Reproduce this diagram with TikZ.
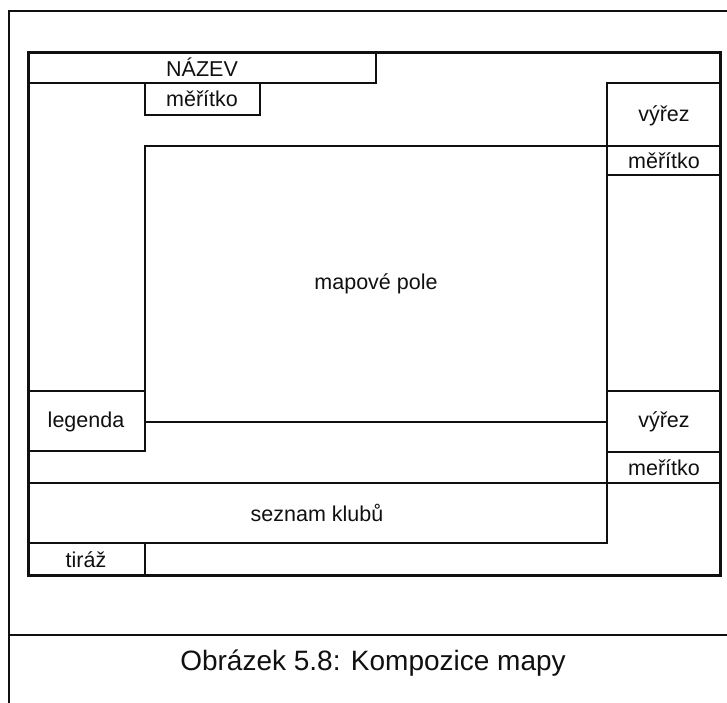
\documentclass[tikz,border=0pt]{standalone}
\usepackage{fontspec}
\setmainfont{Liberation Sans}
\newcommand{\Thin}{1.3pt}
\newcommand{\Frame}{3pt}
\newcommand{\Page}{2pt}
\newcommand{\LabelFont}{\fontsize{21.5}{24}\selectfont}
\newcommand{\CaptionFont}{\fontsize{28}{32}\selectfont}
\definecolor{ink}{HTML}{101010}

\begin{document}
\begin{tikzpicture}[x=1pt,y=-1pt, line join=miter, line cap=rect]
  \tikzset{lbl/.style={inner sep=0pt, text=ink, font=\LabelFont, anchor=center},
           rule/.style={ink, line width=\Thin}}
  \useasboundingbox (0,0) rectangle (727,702);

  % ---- page frame and caption --------------------------------------------
  \draw[ink,line width=\Page] (9,702) -- (9,11) -- (727,11);
  \draw[ink,line width=\Page] (9,635) -- (727,635);
  \node[inner sep=0pt, text=ink, font=\CaptionFont] (caption) at (373,663)
    {Obrázek 5.8: Kompozice mapy};

  % ---- title strip --------------------------------------------------------
  \draw[rule] (28,83) -- (376,83) -- (376,52);
  \draw[rule] (145,83) -- (145,115) -- (260,115) -- (260,83);
  \node[lbl] (nazev) at (202,67) {NÁZEV};
  \node[lbl] (meritkoA) at (202,99) {měřítko};

  % ---- right column -------------------------------------------------------
  \draw[rule] (607,83) -- (720,83);
  \draw[rule] (607,175) -- (720,175);
  \draw[rule] (607,391) -- (720,391);
  \draw[rule] (607,452) -- (720,452);
  \draw[rule] (607,83) -- (607,543);
  \node[lbl] (vyrezA) at (664,116) {výřez};
  \node[lbl] (meritkoB) at (664,161) {měřítko};
  \node[lbl] (vyrezB) at (664,422) {výřez};
  \node[lbl] (meritkoC) at (664,468) {meřítko};

  % ---- map field and legend -----------------------------------------------
  \draw[rule] (145,146) -- (720,146);
  \draw[rule] (145,146) -- (145,451);
  \draw[rule] (145,422) -- (607,422);
  \draw[rule] (28,391) -- (145,391);
  \draw[rule] (28,451) -- (145,451);
  \node[lbl] (pole) at (376,284) {mapové pole};
  \node[lbl] (legenda) at (86,422) {legenda};

  % ---- list of clubs and imprint ------------------------------------------
  \draw[rule] (28,483) -- (720,483);
  \draw[rule] (28,543) -- (607,543);
  \draw[rule] (145,543) -- (145,575);
  \node[lbl] (seznam) at (317,513) {seznam klubů};
  \node[lbl] (tiraz) at (86,560) {tiráž};

  % ---- map frame, on top --------------------------------------------------
  \draw[ink,line width=\Frame] (28,52) rectangle (720,575);

\end{tikzpicture}
\end{document}
